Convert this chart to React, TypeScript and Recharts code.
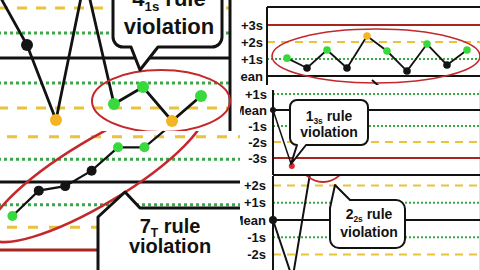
import React from 'react';
import { LineChart, Line, XAxis, YAxis, CartesianGrid, ReferenceLine } from 'recharts';

// QC values in SD units, one array per chart snippet
const topLeftZ = [2.6, 0.52, -2.48, 3.2, -1.84, -1.16, -2.52, -1.52];
const bottomLeftZ = [-1.5, -0.38, -0.18, 0.5, 1.53, 1.53, 2.5];
const topRightZ = [1.05, 0.47, 1.53, 0.47, 2.35, 1.47, 0.29, 1.88, 0.65, 1.53];
const midRightZ = [0, -3.5];
const bottomRightZ = [0, -3.4, 3.4, 3.0];

const topRightTicks = [3, 2, 1, 0];
const midRightTicks = [1, 0, -1, -2, -3];
const bottomRightTicks = [2, 1, 0, -1, -2];
const sdLabels: Record<string, string> = {
  '3': '+3s', '2': '+2s', '1': '+1s', '0': 'Mean', '-1': '-1s', '-2': '-2s', '-3': '-3s',
};

// callout text: [main, subscript]
const calloutRules = [
  ['4', '1s'],
  ['7', 'T'],
  ['1', '3s'],
  ['2', '2s'],
];

const FONT = '"Liberation Sans", Arial, Helvetica, sans-serif';
const C = {
  black: '#121212',
  red: '#a8241f',
  yellow: '#eac23c',
  green: '#3aa848',
  grid: '#c6c6c6',
  ring: '#c4282c',
};

const toRows = (vals: number[], start: number) => vals.map((z, i) => ({ x: i + start, z }));
const range = (a: number, b: number) => Array.from({ length: b - a + 1 }, (_, i) => a + i);

const zoneColor = (z: number) => {
  const a = Math.abs(z);
  if (a < 1) return '#141414';
  if (a < 2) return '#38d93c';
  if (a < 3) return '#f4b524';
  return '#e2262b';
};

const zoneDot = (r: number) => (props: any) => {
  const { cx, cy, index, payload } = props;
  if (cx == null || cy == null) return <g key={`d${index}`} />;
  return <circle key={`d${index}`} cx={cx} cy={cy} r={r} fill={zoneColor(payload.z)} />;
};

const limits = (levels: number[], w: number, yDash: string, gDash: string) =>
  levels.map((lv) => {
    const a = Math.abs(lv);
    let p: any = { stroke: C.black, strokeWidth: w };
    if (a === 1) p = { stroke: C.green, strokeWidth: w, strokeDasharray: gDash };
    if (a === 2) p = { stroke: C.yellow, strokeWidth: w, strokeDasharray: yDash };
    if (a === 3) p = { stroke: C.red, strokeWidth: w };
    return <ReferenceLine key={`l${lv}`} y={lv} {...p} />;
  });

type Tail =
  | { kind: 'bottom'; x1: number; x2: number; tx: number; ty: number }
  | { kind: 'topleft'; a: number; b: number; tx: number; ty: number };

function bubblePath(x: number, y: number, w: number, h: number, r: number, t: Tail) {
  const arc = (ex: number, ey: number) => `A${r},${r} 0 0 1 ${ex},${ey}`;
  if (t.kind === 'bottom') {
    return `M${x + r},${y} H${x + w - r} ${arc(x + w, y + r)} V${y + h - r} ${arc(x + w - r, y + h)} H${t.x2} L${t.tx},${t.ty} L${t.x1},${y + h} H${x + r} ${arc(x, y + h - r)} V${y + r} ${arc(x + r, y)} Z`;
  }
  return `M${x},${y + t.a} L${t.tx},${t.ty} L${x + t.b},${y} H${x + w - r} ${arc(x + w, y + r)} V${y + h - r} ${arc(x + w - r, y + h)} H${x + r} ${arc(x, y + h - r)} Z`;
}

const Callout = ({ d, sw, rule, cx, y1, y2, size }: any) => (
  <g>
    <path d={d} fill="#fff" stroke={C.black} strokeWidth={sw} strokeLinejoin="round" />
    <text x={cx} y={y1} textAnchor="middle" fontFamily={FONT} fontWeight={700} fontSize={size} fill={C.black}>
      {rule[0]}
      <tspan fontSize={size * 0.6} dy={size * 0.22}>{rule[1]}</tspan>
      <tspan fontSize={size} dy={-size * 0.22}>{'\u00a0rule'}</tspan>
    </text>
    <text x={cx} y={y2} textAnchor="middle" fontFamily={FONT} fontWeight={700} fontSize={size} fill={C.black}>
      violation
    </text>
  </g>
);

const Panel = ({ left, top, width, height, children }: any) => (
  <div style={{ position: 'absolute', left, top, width, height, overflow: 'hidden', background: '#fff' }}>
    {children}
  </div>
);

const Overlay = ({ width, height, children }: any) => (
  <svg width={width} height={height} style={{ position: 'absolute', left: 0, top: 0, pointerEvents: 'none' }}>
    {children}
  </svg>
);

const tickStyle = { fill: C.black, fontSize: 13, fontWeight: 700, fontFamily: FONT };
const sdFmt = (v: number) => sdLabels[String(v)] ?? '';

export default function App() {
  return (
    <div style={{ position: 'absolute', left: 0, top: 0, width: 480, height: 270, background: '#fff', overflow: 'hidden' }}>
      {/* top left: 4-1s */}
      <Panel left={0} top={0} width={233} height={131}>
        <div style={{ position: 'absolute', left: -12, top: 0 }}>
          <LineChart width={244} height={131} data={toRows(topLeftZ, 0)} margin={{ top: 0, right: 2, bottom: 0, left: 10 }}>
            <CartesianGrid horizontal={false} stroke={C.grid} />
            <XAxis type="number" dataKey="x" domain={[0, 8]} ticks={range(0, 8)} interval={0} tick={false} axisLine={false} tickLine={false} height={0} />
            <YAxis type="number" domain={[-2.92, 2.32]} allowDataOverflow hide />
            {limits([2, 1, 0, -1, -2], 3, '10 9', '3 3')}
            <ReferenceLine x={8} stroke={C.black} strokeWidth={3} />
            <Line dataKey="z" stroke={C.black} strokeWidth={2.8} dot={zoneDot(6)} activeDot={false} isAnimationActive={false} />
          </LineChart>
        </div>
        <Overlay width={233} height={131}>
          <ellipse cx={161} cy={101} rx={69} ry={31} fill="none" stroke={C.ring} strokeWidth={2} />
          <Callout
            d={bubblePath(113, -20, 109, 67, 10, { kind: 'bottom', x1: 131, x2: 158, tx: 140, ty: 70 })}
            sw={3} rule={calloutRules[0]} cx={169} y1={6} y2={34} size={22}
          />
        </Overlay>
      </Panel>

      {/* bottom left: 7T */}
      <Panel left={0} top={131} width={240} height={139}>
        <div style={{ position: 'absolute', left: -14, top: 0 }}>
          <LineChart width={264} height={139} data={toRows(bottomLeftZ, 0)} margin={{ top: 0, right: 0, bottom: 0, left: 0 }}>
            <CartesianGrid horizontal={false} stroke={C.grid} />
            <XAxis type="number" dataKey="x" domain={[-1, 9]} ticks={range(-1, 9)} interval={0} tick={false} axisLine={false} tickLine={false} height={0} />
            <YAxis type="number" domain={[-3.88, 2.25]} allowDataOverflow hide />
            {limits([2, 1, 0, -1, -2, -3], 3, '10 11', '3 3')}
            <Line dataKey="z" stroke={C.black} strokeWidth={2.2} dot={zoneDot(5)} activeDot={false} isAnimationActive={false} />
          </LineChart>
        </div>
        <Overlay width={240} height={139}>
          <ellipse cx={97} cy={41} rx={125} ry={32} fill="none" stroke={C.ring} strokeWidth={2.5} transform="rotate(-31 97 41)" />
          <Callout
            d={bubblePath(98, 77, 160, 80, 12, { kind: 'topleft', a: 9, b: 42, tx: 125, ty: 61 })}
            sw={3} rule={calloutRules[1]} cx={170} y1={102} y2={122} size={20}
          />
        </Overlay>
      </Panel>

      {/* top right: 10x */}
      <Panel left={240} top={0} width={240} height={85}>
        <LineChart width={247} height={85} data={toRows(topRightZ, 1)} margin={{ top: 7, right: 0, bottom: 0, left: 0 }}>
          <CartesianGrid horizontal={false} stroke={C.grid} />
          <XAxis type="number" dataKey="x" domain={[0, 11]} ticks={range(0, 11)} interval={0} tick={false} axisLine={false} tickLine={false} height={0} />
          <YAxis
            type="number" domain={[-0.53, 4.06]} allowDataOverflow width={27} ticks={topRightTicks} interval={0}
            tickFormatter={sdFmt} tick={tickStyle} tickSize={0} tickMargin={4} tickLine={false}
            axisLine={{ stroke: C.black, strokeWidth: 2 }}
          />
          <ReferenceLine y={4.06} stroke={C.black} strokeWidth={2} />
          {limits(topRightTicks, 2, '8 6', '2 2')}
          <Line dataKey="z" stroke={C.black} strokeWidth={1.8} dot={zoneDot(3.8)} activeDot={false} isAnimationActive={false} />
        </LineChart>
        <Overlay width={240} height={85}>
          <ellipse cx={136} cy={56} rx={104} ry={27} fill="none" stroke={C.ring} strokeWidth={1.6} />
          <path d="M132,80 L141,88" stroke={C.black} strokeWidth={2} fill="none" />
        </Overlay>
      </Panel>

      {/* middle right: 1-3s */}
      <Panel left={240} top={85} width={240} height={91}>
        <LineChart width={240} height={91} data={toRows(midRightZ, 0)} margin={{ top: 5, right: 0, bottom: 1, left: 0 }}>
          <CartesianGrid horizontal={false} stroke={C.grid} />
          <XAxis type="number" dataKey="x" domain={[0, 11]} ticks={range(0, 11)} interval={0} tick={false} axisLine={false} tickLine={false} height={0} />
          <YAxis
            type="number" domain={[-4.06, 1.25]} allowDataOverflow width={33} ticks={midRightTicks} interval={0}
            tickFormatter={sdFmt} tick={tickStyle} tickSize={0} tickMargin={6} tickLine={false}
            axisLine={{ stroke: C.black, strokeWidth: 2 }}
          />
          <ReferenceLine y={-4.06} stroke={C.black} strokeWidth={2} />
          {limits(midRightTicks, 2, '8 6', '2 2')}
          <Line dataKey="z" stroke={C.black} strokeWidth={1.5} dot={zoneDot(3)} activeDot={false} isAnimationActive={false} />
        </LineChart>
        <Overlay width={240} height={91}>
          <Callout
            d={bubblePath(50, 15, 78, 45, 7, { kind: 'bottom', x1: 57, x2: 66, tx: 51, ty: 79 })}
            sw={2} rule={calloutRules[2]} cx={89} y1={36} y2={52} size={14}
          />
        </Overlay>
      </Panel>

      {/* bottom right: 2-2s */}
      <Panel left={240} top={176} width={240} height={94}>
        <LineChart width={240} height={94} data={toRows(bottomRightZ, 0)} margin={{ top: 0, right: 0, bottom: 0, left: 0 }}>
          <CartesianGrid horizontal={false} stroke={C.grid} />
          <XAxis type="number" dataKey="x" domain={[0, 10.6]} ticks={range(0, 10)} interval={0} tick={false} axisLine={false} tickLine={false} height={0} />
          <YAxis
            type="number" domain={[-2.9, 2.55]} allowDataOverflow width={33} ticks={bottomRightTicks} interval={0}
            tickFormatter={sdFmt} tick={tickStyle} tickSize={0} tickMargin={7} tickLine={false}
            axisLine={{ stroke: C.black, strokeWidth: 2 }}
          />
          {limits(bottomRightTicks, 2, '8 6', '2 2')}
          <Line dataKey="z" stroke={C.black} strokeWidth={2} dot={zoneDot(4)} activeDot={false} isAnimationActive={false} />
        </LineChart>
        <Overlay width={240} height={94}>
          <ellipse cx={83} cy={-14} rx={22} ry={20} fill="none" stroke={C.ring} strokeWidth={1.8} />
          <Callout
            d={bubblePath(90, 24, 75, 48, 9, { kind: 'topleft', a: 8, b: 20, tx: 95, ty: 9 })}
            sw={2} rule={calloutRules[3]} cx={129} y1={43} y2={61} size={14}
          />
        </Overlay>
      </Panel>
    </div>
  );
}
